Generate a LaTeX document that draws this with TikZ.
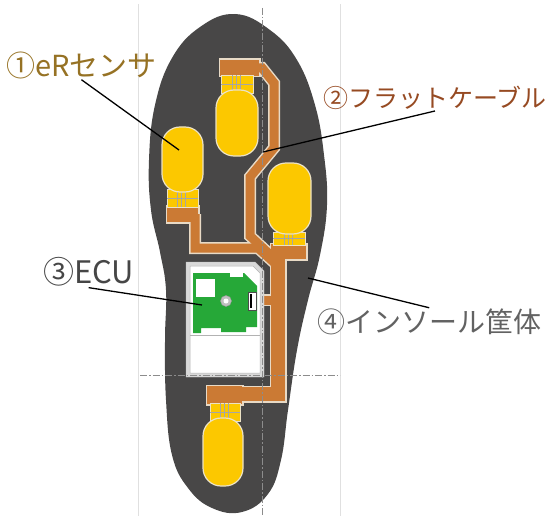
\documentclass[tikz,border=0pt]{standalone}
\usepackage{fontspec}
\newfontfamily\jpfont{Noto Sans CJK JP}

\definecolor{insole}{RGB}{72,71,71}
\definecolor{padyellow}{RGB}{252,200,0}
\definecolor{padrim}{RGB}{236,226,196}
\definecolor{cablebrown}{RGB}{203,122,52}
\definecolor{cablerim}{RGB}{232,218,198}
\definecolor{pcbgreen}{RGB}{38,168,56}
\definecolor{goldtext}{RGB}{150,114,36}
\definecolor{browntext}{RGB}{150,74,34}
\definecolor{greytext}{RGB}{70,70,70}

\begin{document}
\begin{tikzpicture}[
  x=1pt, y=-1pt,
  pad/.style={fill=padyellow, draw=padrim, line width=1.2pt, rounded corners=18pt},
  neck/.style={fill=padyellow, draw=padrim, line width=0.8pt},
  trace/.style={draw=black!35, line width=0.4pt},
  centre/.style={draw=black!45, line width=0.6pt, dash pattern=on 7pt off 2pt on 1.5pt off 2pt},
  frame/.style={draw=black!12, line width=0.6pt},
  leader/.style={draw=black, line width=1.3pt},
  label/.style={anchor=west, inner sep=1pt}
]
\useasboundingbox (0,0) rectangle (554,516);

% frame lines of the drawing sheet
\draw[frame] (138,4) -- (138,516);
\draw[frame] (340,4) -- (340,516);

% insole casing
\fill[insole] plot[smooth cycle, tension=0.7] coordinates {
  (235,14) (270,30) (297,60) (315,105) (324,155) (327,205) (320,255)
  (308,300) (297,350) (288,410) (281,460) (268,494) (242,512) (212,508)
  (188,488) (172,455) (166,400) (165,340) (166,290) (160,252) (151,210)
  (149,160) (155,105) (172,58) (200,27)};

% flat cable: rim first, then the copper colour on top
\foreach \thin/\thick/\o/\c in {12/17/1.5/cablerim, 9/14/0/cablebrown} {
  \draw[draw=\c, line width=\thin pt, line join=miter]
    (195,214) -- (195,248) -- (258,248) -- (278,266);
  \draw[draw=\c, line width=\thin pt, line join=miter]
    (245,68) -- (262,68) -- (274,83) -- (274,148) -- (250,177) -- (250,236) -- (278,262);
  \draw[draw=\c, line width=\thin pt] (256,300) -- (278,300);
  \draw[draw=\c, line width=\thick pt, line join=miter]
    (278,250) -- (278,394) -- (226,394);
  \fill[\c] ({167-\o},{206-\o}) rectangle ({198+\o},{222+\o});
  \fill[\c] ({220-\o},{60-\o}) rectangle ({259+\o},{76+\o});
  \fill[\c] ({271-\o},{244-\o}) rectangle ({306+\o},{259+\o});
  \fill[\c] ({207-\o},{386-\o}) rectangle ({242+\o},{404+\o});
}

% sensor necks with their traces
\foreach \xa/\ya/\xb/\yb in {167/189/198/207, 221/75/253/93, 273/232/305/245, 210/403/240/421} {
  \filldraw[neck] (\xa,\ya) rectangle (\xb,\yb);
  \draw[trace] ({(\xa+\xb)/2-5},\ya) -- ({(\xa+\xb)/2-5},\yb);
  \draw[trace] ({(\xa+\xb)/2-1},\ya) -- ({(\xa+\xb)/2-1},\yb);
  \draw[trace] ({(\xa+\xb)/2+3},\ya) -- ({(\xa+\xb)/2+3},\yb);
  \draw[trace] (\xa,{(\ya+\yb)/2}) -- (\xb,{(\ya+\yb)/2});
}

% eR sensor pads
\filldraw[pad] (162,127) rectangle (203,192);
\filldraw[pad] (216,90) rectangle (258,156);
\filldraw[pad] (268,163) rectangle (311,234);
\filldraw[pad] (203,418) rectangle (243,486);

% ECU housing and board
\filldraw[fill=black!15, draw=black!25] (186,262) -- (255,262) -- (264,271) -- (264,377) -- (186,377) -- cycle;
\filldraw[fill=white, draw=black!30, line width=0.5pt] (190,266) -- (253,266) -- (260,273) -- (260,373) -- (190,373) -- cycle;
\draw[black!30, line width=0.5pt] (190,335) -- (260,335);
\fill[pcbgreen] (193,273) -- (244,273) -- (257,286) -- (257,327) -- (246,327) -- (246,332)
  -- (221,332) -- (221,328) -- (201,328) -- (201,333) -- (193,333) -- cycle;
\fill[white] (196,279) rectangle (215,297);
\fill[white] (230,273) rectangle (243,277);
\filldraw[fill=black!25, draw=black!40] (226,301) circle (5.5);
\fill[white] (226,301) circle (2.5);
\filldraw[fill=white, draw=black!70, line width=0.8pt] (248,292) rectangle (256,310);
\fill[black] (249.5,294) rectangle (251.5,308);

% centre lines
\draw[centre] (262,8) -- (262,516);
\draw[centre] (140,375) -- (340,375);

% callouts
\node[label, text=goldtext, font=\jpfont\fontsize{29}{33}\selectfont] (sensor) at (5,65) {①eRセンサ};
\node[label, text=browntext, font=\jpfont\fontsize{25}{30}\selectfont] (cable) at (322,98) {②フラットケーブル};
\node[label, text=greytext, font=\jpfont\fontsize{31}{35}\selectfont] (ecu) at (42,272) {③ECU};
\node[label, text=greytext!85, font=\jpfont\fontsize{28}{32}\selectfont] (casing) at (316,322) {④インソール筐体};

\coordinate (sensortip) at (179,150);
\coordinate (cabletip) at (263,152);
\coordinate (ecutip) at (202,305);
\coordinate (casingtip) at (308,278);

\draw[leader] (sensor.south) -- (sensortip);
\draw[leader] (cable.south) -- (cabletip);
\draw[leader] (ecu.south) -- (ecutip);
\draw[leader] (casing.north) -- (casingtip);

\end{tikzpicture}
\end{document}
